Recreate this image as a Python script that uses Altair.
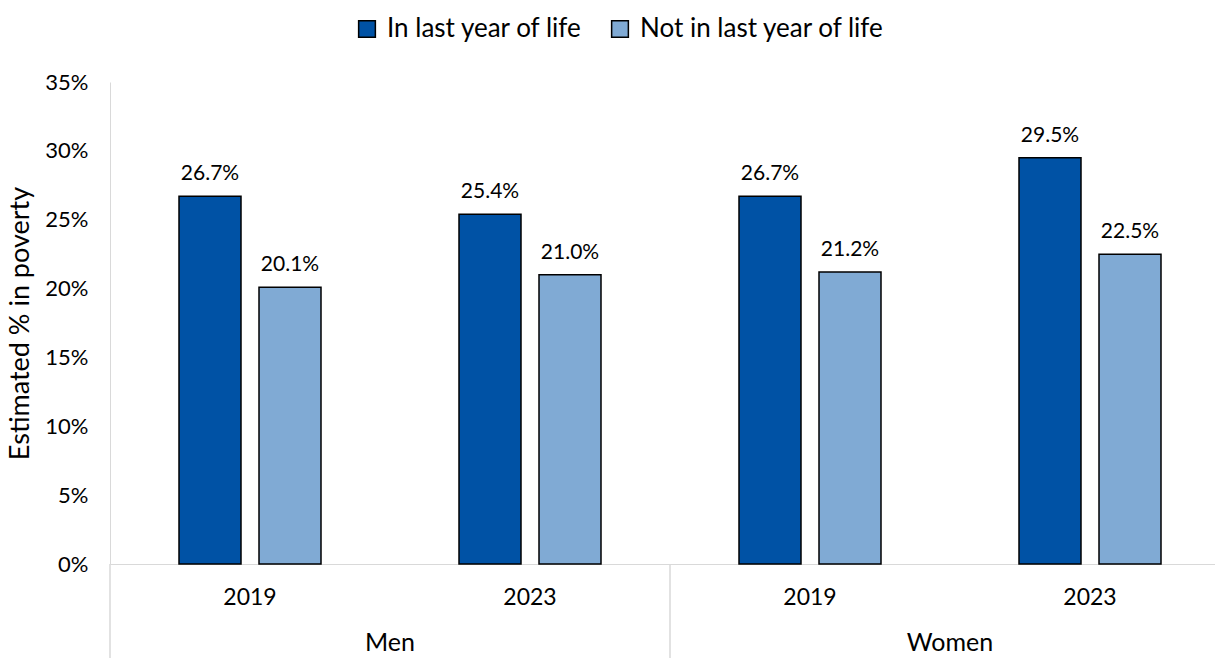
import altair as alt
import pandas as pd

groups = ["Men", "Women"]
years = ["2019", "2023"]
series = ["In last year of life", "Not in last year of life"]
in_last_year = [26.7, 25.4, 26.7, 29.5]
not_in_last_year = [20.1, 21.0, 21.2, 22.5]
colors = ["#0052A5", "#80AAD4"]

cats = [f"{g} {y}" for g in groups for y in years]
rows = []
for i, c in enumerate(cats):
    rows.append({"cat": c, "series": series[0], "value": in_last_year[i] / 100})
    rows.append({"cat": c, "series": series[1], "value": not_in_last_year[i] / 100})
df = pd.DataFrame(rows)
gdf = pd.DataFrame({"cat": [f"{g} {years[0]}" for g in groups], "sex": groups})

W, H = 1105, 482
FONT = "Lato"

xscale = alt.Scale(domain=cats, range=[0, 1120], paddingInner=0, paddingOuter=0)
xaxis = alt.Axis(title=None, labelExpr="split(datum.label, ' ')[1]", ticks=False,
                 labelFontSize=23, labelPadding=22, labelAngle=0, domainColor="#d9d9d9",
                 labelColor="black", labelFont=FONT)
offscale = alt.Scale(domain=series, paddingInner=0.225, paddingOuter=0.8625)

base = alt.Chart(df)
bars = base.mark_bar(stroke="black", strokeWidth=1.5).encode(
    x=alt.X("cat:N", scale=xscale, axis=xaxis, sort=cats),
    xOffset=alt.XOffset("series:N", scale=offscale),
    y=alt.Y("value:Q", scale=alt.Scale(domain=[0, 0.35], nice=False),
            axis=alt.Axis(values=[0, 0.05, 0.1, 0.15, 0.2, 0.25, 0.3, 0.35], format=".0%",
                          grid=False, ticks=False, domainColor="#d9d9d9", labelFontSize=22,
                          labelPadding=22, labelColor="black", labelFont=FONT,
                          title="Estimated % in poverty", titleFontSize=27,
                          titleFontWeight="normal", titleFont=FONT, titleColor="black",
                          titlePadding=10)),
    color=alt.Color("series:N", scale=alt.Scale(domain=series, range=colors),
                    legend=alt.Legend(title=None, orient="none", legendX=244, legendY=-66,
                                      direction="horizontal", symbolType="square",
                                      symbolSize=280, symbolStrokeColor="black",
                                      symbolStrokeWidth=1.5, symbolOpacity=1,
                                      labelFontSize=26, labelFont=FONT, labelColor="black",
                                      labelLimit=400, columnPadding=24, symbolOffset=0,
                                      labelOffset=7)),
)
labels = base.mark_text(baseline="bottom", dy=-12, fontSize=21, font=FONT, color="black").encode(
    x=alt.X("cat:N", scale=xscale, sort=cats),
    xOffset=alt.XOffset("series:N", scale=offscale),
    y=alt.Y("value:Q"),
    text=alt.Text("value:Q", format=".1%"),
)
sexlab = alt.Chart(gdf).mark_text(baseline="middle", fontSize=25, font=FONT, color="black").encode(
    x=alt.X("cat:N", scale=xscale, sort=cats, bandPosition=1),
    y=alt.value(H + 79),
    text="sex:N",
)
seps = alt.Chart(gdf).mark_rule(color="#d9d9d9", strokeWidth=1.5).encode(
    x=alt.X("cat:N", scale=xscale, sort=cats, bandPosition=0),
    y=alt.value(H),
    y2=alt.value(H + 94),
)

chart = alt.layer(bars, labels, seps, sexlab).properties(
    width=W, height=H,
    autosize=alt.AutoSizeParams(type="none"),
    padding={"left": 110, "top": 82, "right": 0, "bottom": 94},
).configure_view(stroke=None)

chart.save("out.html", embed_options={"renderer": "svg", "actions": False})
